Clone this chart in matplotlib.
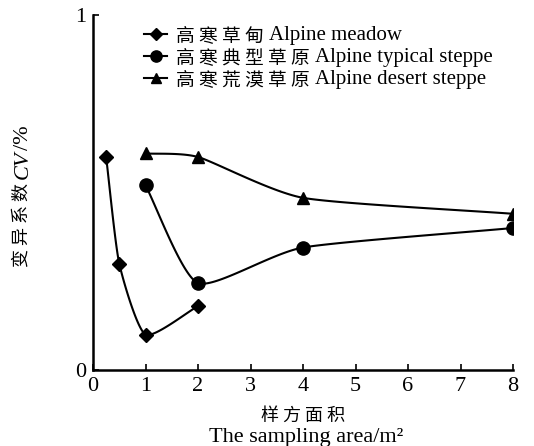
import numpy as np
import matplotlib
matplotlib.use("Agg")
import matplotlib.pyplot as plt

LATIN = ['Liberation Serif', 'Noto Sans CJK SC']
CJK = ['Noto Sans CJK SC', 'Liberation Serif']
plt.rcParams['font.family'] = LATIN

# data
meadow_x = [0.25, 0.5, 1, 2]
meadow_y = [0.60, 0.30, 0.10, 0.18]
typical_x = [1, 2, 4, 8]
typical_y = [0.52, 0.245, 0.345, 0.40]
desert_x = [1, 2, 4, 8]
desert_y = [0.61, 0.60, 0.485, 0.44]

labels_cn = ['高寒草甸', '高寒典型草原', '高寒荒漠草原']
labels_en = ['Alpine meadow', 'Alpine typical steppe', 'Alpine desert steppe']
markers = ['D', 'o', '^']
msizes = [7, 9.5, 9]
xticks = [0, 1, 2, 3, 4, 5, 6, 7, 8]
yticks = [0, 1]
xlabel_cn = '样方面积'
xlabel_en = 'The sampling area/m²'
ylabel_cn = '变异系数'
ylabel_it = 'CV'
ylabel_tail = '/%'


def spaced(s):
    return ' '.join(list(s))


def smooth(x, y, n=40, tension=0.3):
    """Cardinal spline through the given points (for drawing smooth curves)."""
    x = np.asarray(x, float)
    y = np.asarray(y, float)
    px = np.concatenate([[2 * x[0] - x[1]], x, [2 * x[-1] - x[-2]]])
    py = np.concatenate([[2 * y[0] - y[1]], y, [2 * y[-1] - y[-2]]])
    xs, ys = [], []
    t = np.linspace(0, 1, n)
    for i in range(1, len(px) - 2):
        p0, p1, p2, p3 = (np.array([px[j], py[j]]) for j in range(i - 1, i + 3))
        m1 = tension * (p2 - p0)
        m2 = tension * (p3 - p1)
        h00 = 2 * t**3 - 3 * t**2 + 1
        h10 = t**3 - 2 * t**2 + t
        h01 = -2 * t**3 + 3 * t**2
        h11 = t**3 - t**2
        pts = (np.outer(h00, p1) + np.outer(h10, m1) + np.outer(h01, p2) + np.outer(h11, m2))
        xs.extend(pts[:, 0])
        ys.extend(pts[:, 1])
    return np.array(xs), np.array(ys)


W, H = 534, 446
fig = plt.figure(figsize=(W / 100, H / 100), dpi=100)
ax = fig.add_axes([93 / W, 1 - 370 / H, 420 / W, 355 / H])

for (xv, yv), lab, mk, ms in zip([(meadow_x, meadow_y), (typical_x, typical_y), (desert_x, desert_y)],
                                  labels_cn, markers, msizes):
    sx, sy = smooth(xv, yv)
    ax.plot(sx, sy, color='black', lw=1.5)
    ax.plot(xv, yv, linestyle='none', marker=mk, color='black', ms=ms)
    ax.plot([], [], color='black', lw=1.5, marker=mk, ms=ms * 0.85, label=spaced(lab))

ax.set_xlim(0, 8)
ax.set_ylim(0, 1)
ax.set_xticks(xticks)
ax.set_yticks(yticks)
ax.tick_params(direction='in', length=4, width=1.2, labelsize=16, pad=5)
for s in ['top', 'right']:
    ax.spines[s].set_visible(False)
for s in ['left', 'bottom']:
    ax.spines[s].set_linewidth(1.8)

# x label: Chinese line then English line
xl = ax.set_xlabel(spaced(xlabel_cn), family=CJK, fontsize=13, labelpad=8)
ax.annotate(xlabel_en, xy=(0.5, 0), xycoords=xl, xytext=(2, -2), textcoords='offset points',
            ha='center', va='top', fontsize=16, family=LATIN)

# y label pieces (rotated)
y1 = fig.text(22 / W, 1 - 267 / H, spaced(ylabel_cn), rotation=90, ha='center', va='bottom',
              family=CJK, fontsize=13)
y2 = ax.annotate(ylabel_it, xy=(0.5, 1), xycoords=y1, xytext=(1, 3), textcoords='offset points',
                 rotation=90, ha='center', va='bottom', fontsize=16, style='italic', family=LATIN)
ax.annotate(ylabel_tail, xy=(0.5, 1), xycoords=y2, xytext=(0, 0), textcoords='offset points',
            rotation=90, ha='center', va='bottom', fontsize=16, family=LATIN)

leg = ax.legend(loc='upper left', bbox_to_anchor=(144 / W, 1 - 25 / H), bbox_transform=fig.transFigure,
                frameon=False, prop={'family': CJK, 'size': 13.5},
                handlelength=1.25, handletextpad=0.45, labelspacing=0.05, borderpad=0.0,
                borderaxespad=0.0)

fig.canvas.draw()
r = fig.canvas.get_renderer()
for t, en in zip(leg.get_texts(), labels_en):
    bb = t.get_window_extent(r)
    fig.text((bb.x1 + 5) / W, (bb.y0 + bb.y1) / 2 / H - 0.5 / H, en,
             ha='left', va='center', fontsize=15, family=LATIN)

fig.savefig('out.png', dpi=100)
